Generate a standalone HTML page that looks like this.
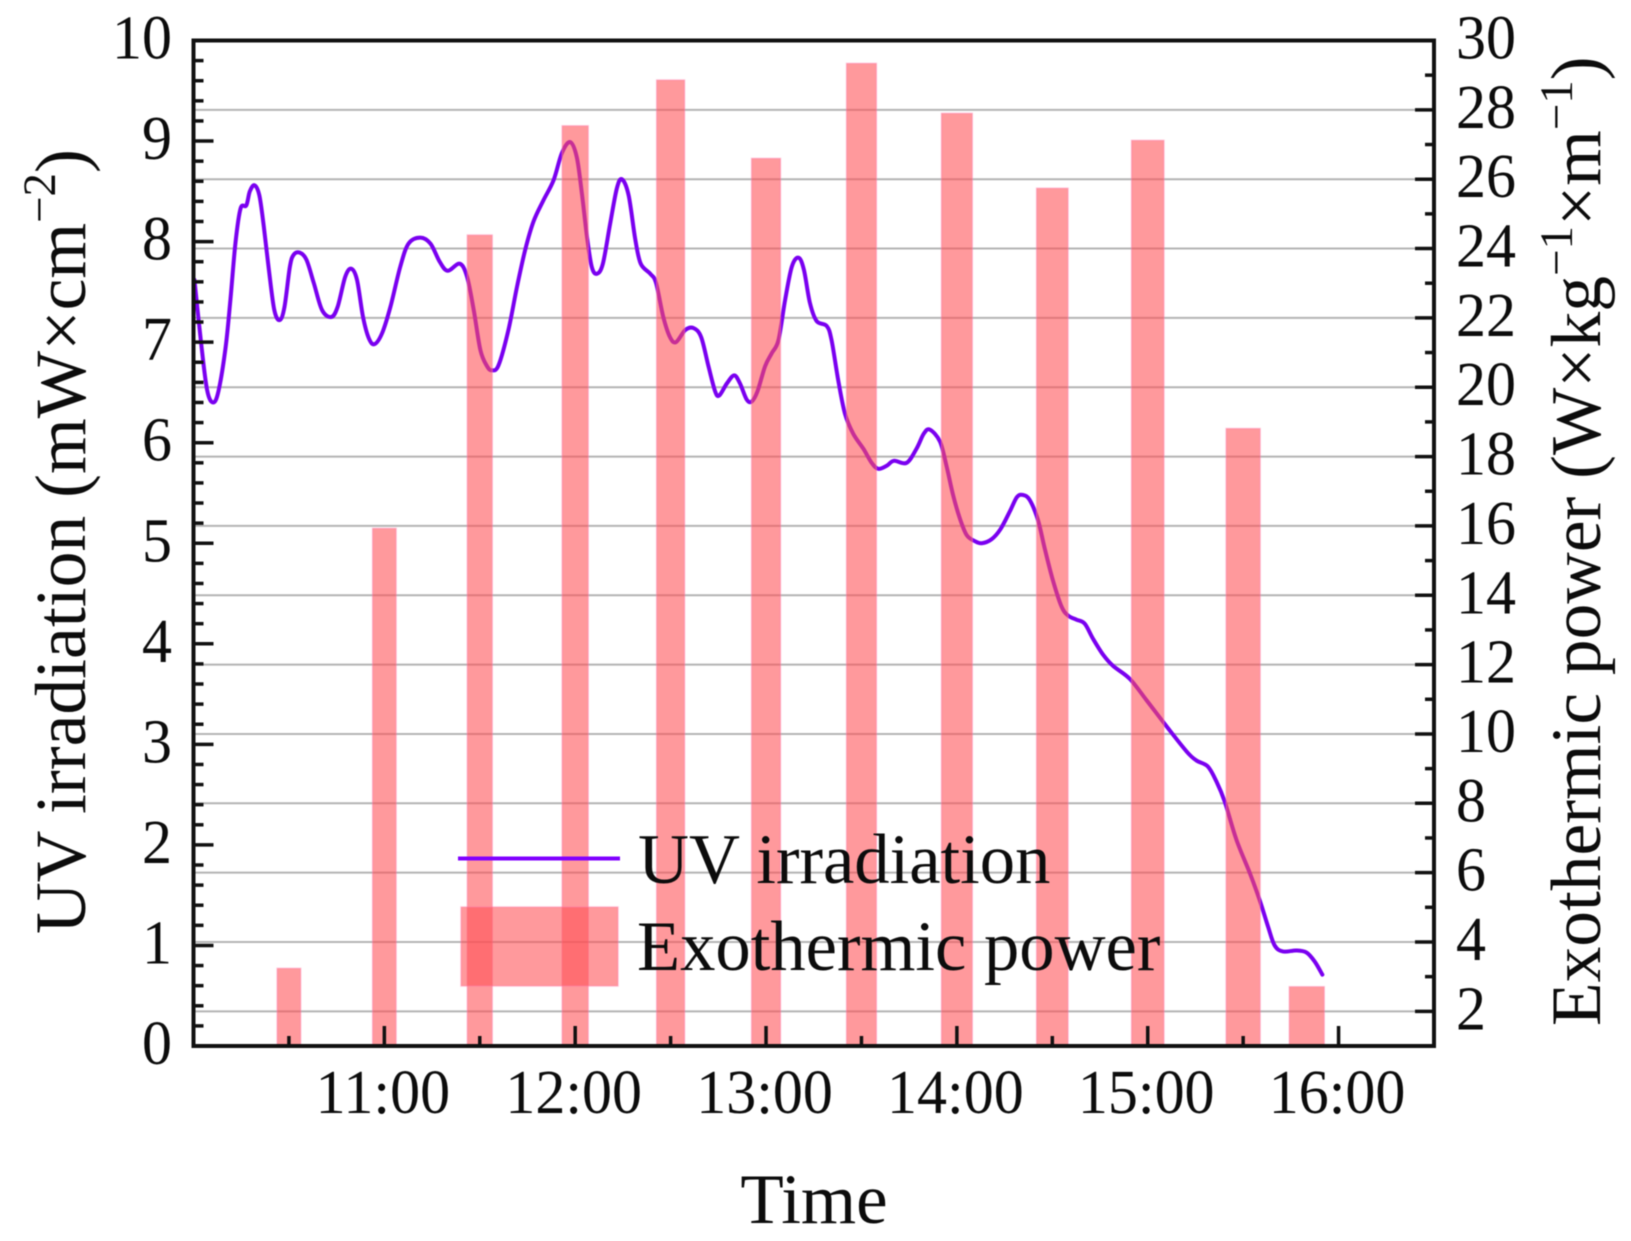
<!DOCTYPE html>
<html lang="en">
<head>
<meta charset="utf-8">
<title>UV irradiation and exothermic power over time</title>
<style>
html,body{margin:0;padding:0;background:#fff;width:1631px;height:1241px;overflow:hidden}
svg{display:block;filter:blur(.55px)}
text{font-family:"Liberation Serif","Times New Roman",serif;fill:#0c0c0c}
</style>
</head>
<body>
<svg id="chart" xmlns="http://www.w3.org/2000/svg" width="1631" height="1241" viewBox="0 0 1631 1241">
  <rect x="0" y="0" width="1631" height="1241" fill="#fff"/>
  <g id="grid"></g>
  <g id="lineLayer"></g>
  <g id="barLayer"></g>
  <rect x="461" y="907" width="157" height="79" fill="rgba(255,80,85,.58)" stroke="rgba(255,120,170,.4)" stroke-width="1.5"/>
  <line x1="458" y1="858.5" x2="620" y2="858.5" stroke="#8000ff" stroke-width="4"/>
  <text x="638" y="883" font-size="70.6">UV irradiation</text>
  <text x="637" y="970" font-size="70.6">Exothermic power</text>
  <g id="axes"></g>
  <text x="814" y="1223" font-size="71" text-anchor="middle">Time</text>
  <text transform="translate(85,934) rotate(-90)" font-size="71.6">UV irradiation (mW×cm<tspan font-size="47" dy="-30">−2</tspan><tspan dy="30">)</tspan></text>
  <text transform="translate(1600,1026) rotate(-90)" font-size="71.4">Exothermic power (W×kg<tspan font-size="47" dy="-28">−1</tspan><tspan dy="28">×m</tspan><tspan font-size="47" dy="-28">−1</tspan><tspan dy="28">)</tspan></text>
</svg>
<script>
// Minutes after 10:00 and UV irradiation in mW/cm2
const lineMinutes = [0.3,2.4,4.3,6.2,7.9,10.1,11.6,13.2,14.8,16.6,17.7,19.2,20.7,22.1,23.7,25.4,27.1,28.6,30.3,31.5,33.4,35.5,37.8,40.4,43.3,45.3,47.7,49.6,51.4,53.3,55.1,56.9,59.3,61.9,65.0,67.6,71.3,74.5,77.4,79.9,83.7,86.0,88.1,90.2,92.3,93.8,95.9,99.0,101.7,104.3,106.9,110.0,113.2,115.8,118.4,120.5,122.1,123.7,125.2,126.8,128.7,131.0,133.1,134.7,136.8,138.9,140.6,143.6,145.4,147.7,149.8,151.7,154.6,157.2,159.6,161.9,164.0,165.3,167.7,170.0,171.8,173.9,175.5,177.3,179.7,181.8,183.9,186.0,188.1,190.2,191.9,193.8,195.9,199.1,200.6,202.7,204.8,207.4,210.6,213.2,215.3,217.9,220.2,224.2,227.3,229.6,231.5,234.7,236.8,238.8,240.9,243.1,245.7,247.8,250.9,253.7,256.7,258.9,260.8,262.9,265.5,267.6,270.2,272.9,275.0,277.6,280.2,282.8,286.0,289.1,294.4,299.6,305.9,312.2,315.3,318.9,321.6,324.2,327.9,332.1,335.2,337.8,339.9,342.5,346.7,349.9,352.5,354.9];
const lineValues = [7.62,6.99,6.52,6.40,6.52,6.95,7.42,7.99,8.33,8.36,8.50,8.56,8.46,8.15,7.72,7.32,7.22,7.35,7.75,7.87,7.89,7.82,7.59,7.32,7.25,7.35,7.65,7.73,7.62,7.25,7.04,6.98,7.09,7.35,7.75,7.98,8.04,7.98,7.80,7.71,7.78,7.65,7.32,6.92,6.76,6.72,6.77,7.12,7.55,7.92,8.20,8.41,8.61,8.88,8.99,8.84,8.48,8.05,7.75,7.68,7.78,8.18,8.53,8.62,8.46,8.02,7.78,7.68,7.59,7.25,7.05,7.00,7.12,7.14,7.05,6.76,6.51,6.47,6.59,6.67,6.59,6.43,6.41,6.51,6.76,6.89,7.02,7.42,7.75,7.84,7.72,7.39,7.21,7.16,7.02,6.62,6.29,6.09,5.94,5.80,5.74,5.77,5.82,5.80,5.94,6.09,6.13,6.01,5.76,5.48,5.25,5.08,5.02,5.00,5.04,5.14,5.32,5.46,5.48,5.43,5.23,4.95,4.63,4.37,4.28,4.24,4.20,4.05,3.89,3.78,3.65,3.44,3.18,2.93,2.84,2.78,2.63,2.43,2.05,1.72,1.45,1.19,1.00,0.94,0.95,0.93,0.84,0.71];

// Measurement time (minutes after 10:00), measurement span (minutes) and exothermic power in W/(kg*m)
const barMinutes = [30,60,90,120,150,180,210,240,270,300,330,350];
const barSpans = [7.4,7.4,7.85,8.2,8.8,9.1,9.4,9.7,9.9,10.2,10.7,11];
const barPower = [3.24,15.93,24.39,27.54,28.86,26.6,29.34,27.9,25.74,27.12,18.81,2.71];

// Tick labels
const leftTickValues = [0,1,2,3,4,5,6,7,8,9,10];
const rightTickValues = [2,4,6,8,10,12,14,16,18,20,22,24,26,28,30];
const timeTickMinutes = [60,120,180,240,300,360];
const timeTickLabels = ['11:00','12:00','13:00','14:00','15:00','16:00'];

// Axis geometry and scales
const plotLeft = 193.5, plotRight = 1434, plotTop = 40.5, plotBottom = 1046;
const xMin = 0, xMax = 390, leftMin = 0, leftMax = 10, rightMin = 1, rightMax = 30;
function xScale(m){ return plotLeft + (m - xMin) / (xMax - xMin) * (plotRight - plotLeft); }
function yLeft(v){ return plotBottom - (v - leftMin) / (leftMax - leftMin) * (plotBottom - plotTop); }
function yRight(v){ return plotBottom - (v - rightMin) / (rightMax - rightMin) * (plotBottom - plotTop); }

const NS = 'http://www.w3.org/2000/svg';
function make(tag, parent, props){
  const n = document.createElementNS(NS, tag);
  for (const k in props) n.setAttribute(k, props[k]);
  parent.appendChild(n);
  return n;
}
const gridG = document.getElementById('grid');
const lineG = document.getElementById('lineLayer');
const barG = document.getElementById('barLayer');
const axesG = document.getElementById('axes');

// Gridlines at right-axis even values
for (let v = 2; v <= 28; v += 2) {
  const g = make('line', gridG, {x1: plotLeft, x2: plotRight, y1: yRight(v), y2: yRight(v), stroke: '#b4b4b4', 'stroke-width': 2});
  
  
}

// UV line: smooth Catmull-Rom path through the data points
const pts = lineMinutes.map((m, i) => [xScale(m), yLeft(lineValues[i])]);
let d = 'M' + pts[0][0].toFixed(2) + ' ' + pts[0][1].toFixed(2);
for (let i = 0; i < pts.length - 1; i++) {
  const p0 = pts[Math.max(0, i - 1)], p1 = pts[i], p2 = pts[i + 1], p3 = pts[Math.min(pts.length - 1, i + 2)];
  const c1x = p1[0] + (p2[0] - p0[0]) / 6, c1y = p1[1] + (p2[1] - p0[1]) / 6;
  const c2x = p2[0] - (p3[0] - p1[0]) / 6, c2y = p2[1] - (p3[1] - p1[1]) / 6;
  d += 'C' + c1x.toFixed(2) + ' ' + c1y.toFixed(2) + ' ' + c2x.toFixed(2) + ' ' + c2y.toFixed(2) + ' ' + p2[0].toFixed(2) + ' ' + p2[1].toFixed(2);
}
const uvPath = make('path', lineG, {d: d, fill: 'none', stroke: '#7a00f0', 'stroke-width': 4, 'stroke-linejoin': 'round', 'stroke-linecap': 'round'});



// Exothermic power bars
barMinutes.forEach((m, i) => {
  const x0 = xScale(m - barSpans[i] / 2), x1 = xScale(m + barSpans[i] / 2);
  const top = yRight(barPower[i]);
  const b = make('rect', barG, {x: x0, y: top, width: x1 - x0, height: yRight(rightMin) - top, fill: 'rgba(255,80,85,.58)', stroke: 'rgba(255,120,170,.4)', 'stroke-width': 1.5});
  
  
});

// Left axis ticks
for (let k = 1; k < 50; k++) {
  const v = k * 0.2, major = k % 5 === 0;
  const t = make('line', axesG, {x1: plotLeft, x2: plotLeft + (major ? 20 : 10), y1: yLeft(v), y2: yLeft(v), stroke: '#111', 'stroke-width': 3.5});
  
  
}
leftTickValues.forEach(v => {
  const l = make('text', axesG, {transform: 'translate(172,' + (yLeft(v) + 18) + ') scale(1,1.04)', 'font-size': 60, 'text-anchor': 'end'});
  l.textContent = String(v);
  
  
});

// Right axis ticks
for (let v = rightMin + 1; v < rightMax; v++) {
  const major = v % 2 === 0;
  const t = make('line', axesG, {x1: plotRight - (major ? 19 : 9), x2: plotRight, y1: yRight(v), y2: yRight(v), stroke: '#111', 'stroke-width': 3.5});
  
  
}
rightTickValues.forEach(v => {
  const l = make('text', axesG, {transform: 'translate(1456,' + (yRight(v) + 18) + ') scale(1,1.04)', 'font-size': 60});
  l.textContent = String(v);
  
  
});

// Bottom axis ticks
for (let m = 30; m < xMax; m += 30) {
  const major = m % 60 === 0;
  const t = make('line', axesG, {x1: xScale(m), x2: xScale(m), y1: plotBottom - (major ? 20 : 10), y2: plotBottom, stroke: '#111', 'stroke-width': 3.5});
  
  
}
timeTickMinutes.forEach((m, i) => {
  const l = make('text', axesG, {transform: 'translate(' + (xScale(m) - 1.5) + ',1113) scale(1,1.04)', 'font-size': 60, 'text-anchor': 'middle'});
  l.textContent = timeTickLabels[i];
  
  
});

// Plot frame
const frame = make('rect', axesG, {x: plotLeft, y: plotTop, width: plotRight - plotLeft, height: plotBottom - plotTop, fill: 'none', stroke: '#111', 'stroke-width': 4});


</script>
</body>
</html>
